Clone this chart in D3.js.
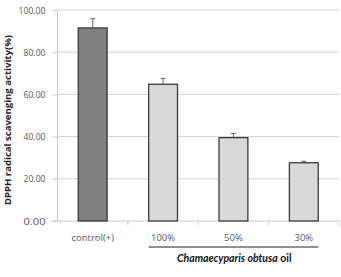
<!DOCTYPE html>
<html><head><meta charset="utf-8">
<script src="https://cdn.jsdelivr.net/npm/d3@7"></script>
<style>body{margin:0;background:#fff}svg{display:block}</style>
</head><body>
<script>
const categories = ["control(+)", "100%", "50%", "30%"];
const values = [91.5, 64.8, 39.5, 27.6];
const errors = [4.4, 2.8, 2.0, 0.7];
const fills = ["#808080", "#d9d9d9", "#d9d9d9", "#d9d9d9"];
const yTicks = [0, 20, 40, 60, 80, 100];

const W = 341, H = 277;
const m = {left: 57.5, right: 2, top: 10, bottom: 56};
const svg = d3.select("body").append("svg").attr("width", W).attr("height", H);

const x = d3.scaleBand().domain(categories).range([m.left, W - m.right]).paddingInner(0.59).paddingOuter(0.295);
const xOuter = d3.scaleBand().domain(categories).range([m.left, W - m.right]);
const y = d3.scaleLinear().domain([0, 100]).range([H - m.bottom, m.top]);
const font = "'Open Sans','Noto Sans',sans-serif";

// gridlines
svg.append("g").selectAll("line").data(yTicks.filter(d => d > 0)).join("line")
  .attr("x1", m.left).attr("x2", W - m.right)
  .attr("y1", d => y(d)).attr("y2", d => y(d))
  .attr("stroke", "#d0d0d0").attr("stroke-width", 1);

// y axis
const ya = svg.append("g").attr("transform", `translate(${m.left},0)`)
  .call(d3.axisLeft(y).tickValues(yTicks).tickFormat(d3.format(".2f")).tickSize(5).tickPadding(7));
ya.select(".domain").attr("stroke", "#c8c8c8").attr("d", `M0,${y(0)}V${y(100)}`);
ya.selectAll(".tick line").attr("stroke", "#c8c8c8");
ya.selectAll("text").attr("fill", "#595959").style("font-family", font).style("font-size", "9.5px")
  .attr("textLength", d => d >= 100 ? 27 : 22).attr("lengthAdjust", "spacingAndGlyphs");

// x axis
const xa = svg.append("g").attr("transform", `translate(0,${y(0)})`);
xa.append("line").attr("x1", m.left - 5).attr("x2", W - m.right).attr("y1", 0).attr("y2", 0).attr("stroke", "#c8c8c8");
xa.selectAll("line.t").data(categories.slice(1).concat(["end"])).join("line").attr("class", "t")
  .attr("x1", (d, i) => i < 3 ? xOuter(d) : W - m.right).attr("x2", (d, i) => i < 3 ? xOuter(d) : W - m.right)
  .attr("y1", 0).attr("y2", 4).attr("stroke", "#c8c8c8");
xa.selectAll("text").data(categories).join("text")
  .attr("x", d => x(d) + x.bandwidth() / 2).attr("y", 20)
  .attr("text-anchor", "middle").attr("fill", "#595959")
  .style("font-family", font).style("font-size", "9.5px")
  .text(d => d);

// error bars
const eb = svg.append("g");
eb.selectAll("line.v").data(categories).join("line").attr("class", "v")
  .attr("x1", d => x(d) + x.bandwidth() / 2).attr("x2", d => x(d) + x.bandwidth() / 2)
  .attr("y1", (d, i) => y(values[i])).attr("y2", (d, i) => y(values[i] + errors[i]))
  .attr("stroke", "#666").attr("stroke-width", 1);
eb.selectAll("line.h").data(categories).join("line").attr("class", "h")
  .attr("x1", d => x(d) + x.bandwidth() / 2 - 2.5).attr("x2", d => x(d) + x.bandwidth() / 2 + 2.5)
  .attr("y1", (d, i) => y(values[i] + errors[i])).attr("y2", (d, i) => y(values[i] + errors[i]))
  .attr("stroke", "#666").attr("stroke-width", 1);

// bars
svg.append("g").selectAll("rect").data(categories).join("rect")
  .attr("x", d => x(d)).attr("width", x.bandwidth())
  .attr("y", (d, i) => y(values[i])).attr("height", (d, i) => y(0) - y(values[i]))
  .attr("fill", (d, i) => fills[i]).attr("stroke", "#3a3a3a").attr("stroke-width", 1.3);

// group underline
const gx1 = x(categories[1]), gx2 = x(categories[3]) + x.bandwidth();
svg.append("line").attr("x1", gx1).attr("x2", gx2).attr("y1", 247).attr("y2", 247)
  .attr("stroke", "#222").attr("stroke-width", 1.2);
const gt = svg.append("text").attr("x", 177).attr("y", 261.5)
  .attr("fill", "#111").style("font-family", "Lato,'Open Sans',sans-serif")
  .style("font-size", "10.5px").style("font-weight", "bold");
gt.append("tspan").style("font-style", "italic").text("Chamaecyparis obtusa");
gt.append("tspan").text(" oil");

// y label
svg.append("text").attr("transform", `translate(10.5,120) rotate(-90)`)
  .attr("text-anchor", "middle").attr("fill", "#222")
  .style("font-family", font).style("font-size", "9.5px").style("font-weight", "bold")
  .attr("textLength", 170).attr("lengthAdjust", "spacingAndGlyphs")
  .text("DPPH radical scavenging activity(%)");
</script>
</body></html>
